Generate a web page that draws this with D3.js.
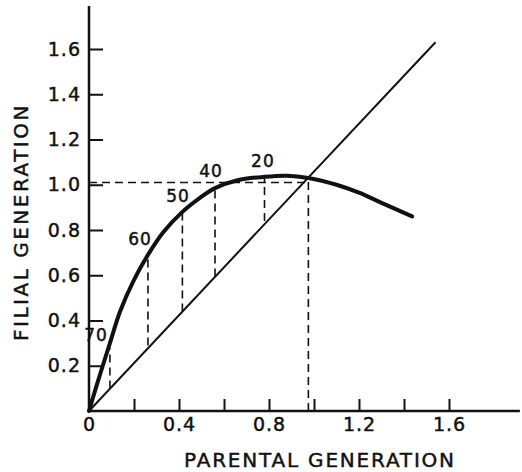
<!DOCTYPE html>
<html>
<head>
	<meta charset="utf-8">
	<title>Parental vs filial generation</title>
	<style>
		body {
			margin: 0;
			background: white;
		}

		svg {
			display: block;
			font-family: 'DejaVu Sans', sans-serif;
		}

		/* lettering in the original is drawn with an even, heavy pen */
		svg text {
			stroke: #111;
			stroke-width: 0.45px;
		}
	</style>
</head>
<body>
	<svg width='522' height='472'></svg>
<script src='https://d3js.org/d3.v7.min.js'></script>
<script>

	// reproduction curve (parental -> filial)
	let curveX = [0, 0.03, 0.058, 0.093, 0.138, 0.2, 0.262, 0.33, 0.415, 0.49, 0.56, 0.66, 0.78, 0.88, 0.975, 1.1, 1.2, 1.3, 1.436]
	let curveY = [0, 0.1, 0.19, 0.3, 0.44, 0.58, 0.69, 0.79, 0.88, 0.94, 0.985, 1.02, 1.035, 1.04, 1.03, 1.0, 0.965, 0.92, 0.86]

	// replacement line end points
	let diagX = [0, 1.54]
	let diagY = [0, 1.63]

	// dashed verticals between replacement line and curve
	let stepX = [0.093, 0.262, 0.415, 0.56, 0.78, 0.975]
	let stepLow = [0.1, 0.29, 0.44, 0.595, 0.84, 0]
	let stepHigh = [0.28, 0.69, 0.875, 0.98, 1.03, 1.03]

	// dashed horizontal at equilibrium
	let eqY = 1.01
	let eqX = 0.975

	// labels on the curve
	let markText = ['70', '60', '50', '40', '20']
	let markX = [0.031, 0.227, 0.396, 0.542, 0.773]
	let markY = [0.335, 0.76, 0.95, 1.06, 1.105]

	// ticks
	let xTicks = [0, 0.2, 0.4, 0.6, 0.8, 1.0, 1.2, 1.4, 1.6]
	let xTickLabels = ['0', '', '0.4', '', '0.8', '', '1.2', '', '1.6']
	let yTicks = [0.2, 0.4, 0.6, 0.8, 1.0, 1.2, 1.4, 1.6]
	let yTickLabels = ['0.2', '0.4', '0.6', '0.8', '1.0', '1.2', '1.4', '1.6']

	let svg = d3.select('svg')

	let x = d3.scaleLinear()
		.domain([0, 1.6])
		.range([89, 449])

	let y = d3.scaleLinear()
		.domain([0, 1.6])
		.range([411, 49])

	// axis lines run past the last tick
	svg.append('line')
		.attr('x1', x(0)).attr('y1', y(0))
		.attr('x2', x(1.915)).attr('y2', y(0))
		.style('stroke', '#111')
		.style('stroke-width', 2.5)

	svg.append('line')
		.attr('x1', x(0)).attr('y1', y(0))
		.attr('x2', x(0)).attr('y2', y(1.79))
		.style('stroke', '#111')
		.style('stroke-width', 2.5)

	let xAxis = d3.axisBottom(x)
		.tickValues(xTicks)
		.tickFormat((d, i) => xTickLabels[i])
		.tickSizeInner(-12)
		.tickSizeOuter(0)
		.tickPadding(7)

	let yAxis = d3.axisLeft(y)
		.tickValues(yTicks)
		.tickFormat((d, i) => yTickLabels[i])
		.tickSizeInner(-14)
		.tickSizeOuter(0)
		.tickPadding(8)

	let gx = svg.append('g')
		.attr('transform', `translate(0,${y(0)})`)
		.call(xAxis)

	let gy = svg.append('g')
		.attr('transform', `translate(${x(0)},0)`)
		.call(yAxis)

	// own axis lines are drawn above, so hide the default ones
	svg.selectAll('.domain').remove()

	svg.selectAll('.tick line')
		.style('stroke', '#111')
		.style('stroke-width', 2)

	svg.selectAll('.tick text')
		.style('font-family', "'DejaVu Sans', sans-serif")
		.style('font-size', '19px')
		.style('letter-spacing', '1px')
		.style('fill', '#111')

	// replacement line
	svg.append('line')
		.attr('x1', x(diagX[0])).attr('y1', y(diagY[0]))
		.attr('x2', x(diagX[1])).attr('y2', y(diagY[1]))
		.style('stroke', '#111')
		.style('stroke-width', 2)

	// dashed steps
	svg.append('g')
		.selectAll('line')
		.data(stepX)
		.join('line')
		.attr('x1', d => x(d))
		.attr('x2', d => x(d))
		.attr('y1', (d, i) => y(stepLow[i]))
		.attr('y2', (d, i) => y(stepHigh[i]))
		.style('stroke', '#111')
		.style('stroke-width', 1.6)
		.style('stroke-dasharray', '8,5')

	svg.append('line')
		.attr('x1', x(0)).attr('y1', y(eqY))
		.attr('x2', x(eqX)).attr('y2', y(eqY))
		.style('stroke', '#111')
		.style('stroke-width', 1.6)
		.style('stroke-dasharray', '8,5')

	// the curve itself, heavy line
	let line = d3.line()
		.x(d => x(d[0]))
		.y(d => y(d[1]))
		.curve(d3.curveCatmullRom)

	svg.append('path')
		.datum(curveX.map((d, i) => [d, curveY[i]]))
		.attr('d', line)
		.style('fill', 'none')
		.style('stroke', '#111')
		.style('stroke-width', 4)
		.style('stroke-linecap', 'round')

	svg.append('g')
		.selectAll('text')
		.data(markText)
		.join('text')
		.attr('x', (d, i) => x(markX[i]))
		.attr('y', (d, i) => y(markY[i]))
		.attr('dy', '0.35em')
		.attr('text-anchor', 'middle')
		.style('font-size', '17px')
		.style('letter-spacing', '1px')
		.style('fill', '#111')
		.text(d => d)

	// axis titles
	svg.append('text')
		.attr('x', 320)
		.attr('y', 467)
		.attr('text-anchor', 'middle')
		.style('font-size', '20px')
		.style('letter-spacing', '1.8px')
		.style('fill', '#111')
		.text('PARENTAL GENERATION')

	svg.append('text')
		.attr('transform', 'translate(28,222) rotate(-90)')
		.attr('text-anchor', 'middle')
		.style('font-size', '20px')
		.style('letter-spacing', '2.5px')
		.style('fill', '#111')
		.text('FILIAL GENERATION')

</script>
</body>
</html>
